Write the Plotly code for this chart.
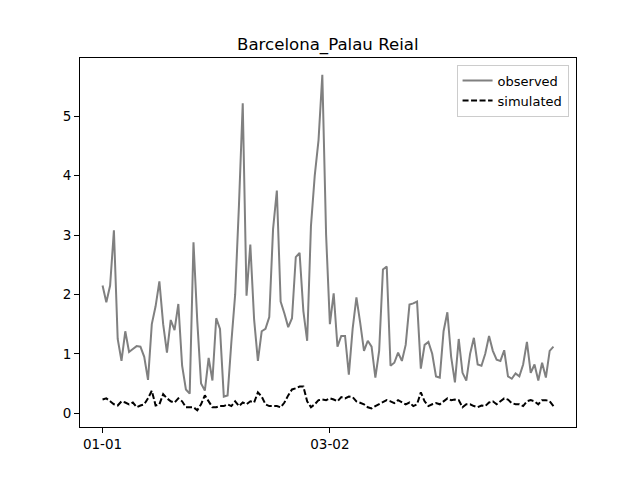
import pandas as pd
import plotly.graph_objs as go

dates = pd.date_range("2019-01-01", periods=120, freq="D")

observed = [
    2.15, 1.87, 2.15, 3.08, 1.25, 0.88, 1.38, 1.03, 1.08, 1.13,
    1.12, 0.95, 0.56, 1.50, 1.80, 2.22, 1.50, 1.02, 1.57, 1.40,
    1.84, 0.80, 0.40, 0.33, 2.88, 1.55, 0.50, 0.38, 0.93, 0.55,
    1.60, 1.42, 0.28, 0.30, 1.20, 2.00, 3.50, 5.22, 1.98, 2.84,
    1.58, 0.88, 1.38, 1.42, 1.62, 3.10, 3.75, 1.88, 1.68, 1.45,
    1.60, 2.63, 2.70, 1.72, 1.22, 3.15, 4.00, 4.60, 5.70, 3.00,
    1.50, 2.02, 1.12, 1.30, 1.30, 0.65, 1.42, 1.95, 1.52, 1.05,
    1.22, 1.12, 0.60, 1.05, 2.42, 2.47, 0.80, 0.85, 1.02, 0.88,
    1.15, 1.83, 1.85, 1.88, 0.75, 1.15, 1.20, 1.00, 0.62, 0.60,
    1.38, 1.70, 0.95, 0.52, 1.25, 0.68, 0.55, 1.00, 1.27, 0.82,
    0.80, 1.00, 1.30, 1.05, 0.90, 0.88, 1.06, 0.62, 0.58, 0.67,
    0.62, 0.82, 1.20, 0.68, 0.82, 0.55, 0.85, 0.60, 1.05, 1.12,
]

simulated = [
    0.23, 0.25, 0.20, 0.15, 0.13, 0.20, 0.18, 0.15, 0.18, 0.10,
    0.13, 0.15, 0.25, 0.38, 0.13, 0.15, 0.32, 0.25, 0.20, 0.18,
    0.25, 0.20, 0.10, 0.10, 0.10, 0.05, 0.15, 0.30, 0.20, 0.10,
    0.10, 0.12, 0.12, 0.15, 0.12, 0.20, 0.12, 0.18, 0.15, 0.20,
    0.18, 0.35, 0.28, 0.15, 0.12, 0.12, 0.12, 0.10, 0.18, 0.30,
    0.40, 0.42, 0.45, 0.45, 0.20, 0.10, 0.15, 0.22, 0.23, 0.22,
    0.25, 0.23, 0.20, 0.27, 0.25, 0.28, 0.27, 0.20, 0.17, 0.15,
    0.10, 0.08, 0.12, 0.15, 0.18, 0.22, 0.20, 0.17, 0.22, 0.18,
    0.15, 0.18, 0.12, 0.15, 0.35, 0.20, 0.12, 0.15, 0.17, 0.15,
    0.20, 0.25, 0.22, 0.23, 0.22, 0.10, 0.15, 0.15, 0.12, 0.10,
    0.13, 0.12, 0.18, 0.20, 0.15, 0.20, 0.25, 0.23, 0.17, 0.15,
    0.15, 0.12, 0.20, 0.22, 0.20, 0.15, 0.22, 0.22, 0.20, 0.12,
]

tick_dates = ["2019-01-01", "2019-03-02"]
tick_labels = ["01-01", "03-02"]
y_ticks = [0, 1, 2, 3, 4, 5]

# matplotlib-like 5% padding on both axes
span = dates[-1] - dates[0]
x_range = [dates[0] - span * 0.05, dates[-1] + span * 0.05]
all_vals = observed + simulated
y_pad = (max(all_vals) - min(all_vals)) * 0.05
y_range = [min(all_vals) - y_pad, max(all_vals) + y_pad]

fig = go.Figure([
    go.Scatter(
        x=dates, y=observed, mode="lines", name="observed",
        line=dict(color="gray", width=2),
    ),
    go.Scatter(
        x=dates, y=simulated, mode="lines", name="simulated",
        line=dict(color="black", width=2, dash="6px,2.5px"),
    ),
])

axis_style = dict(
    showline=True, linecolor="black", linewidth=1, mirror=True,
    showgrid=False, zeroline=False,
    ticks="outside", ticklen=5, tickwidth=1, tickcolor="black",
    tickfont=dict(size=13.5, color="black"),
)

# page body has an 8px margin, so the figure is sized/offset for it
fig.update_layout(
    width=632,
    height=472,
    plot_bgcolor="white",
    paper_bgcolor="white",
    font=dict(family="DejaVu Sans", color="black"),
    title=dict(
        text="Barcelona_Palau Reial", x=0.506, xanchor="center",
        y=0.924, yanchor="middle", font=dict(size=16.6),
    ),
    margin=dict(l=72, r=64, t=50, b=53),
    xaxis=dict(
        range=x_range, tickvals=tick_dates, ticktext=tick_labels,
        **axis_style
    ),
    yaxis=dict(range=y_range, tickvals=y_ticks, **axis_style),
    legend=dict(
        x=0.985, xanchor="right", y=0.982, yanchor="top",
        bordercolor="#cccccc", borderwidth=1, bgcolor="white",
        font=dict(size=13), tracegroupgap=0, itemwidth=30,
    ),
    showlegend=True,
)

fig.write_html("out.html")
